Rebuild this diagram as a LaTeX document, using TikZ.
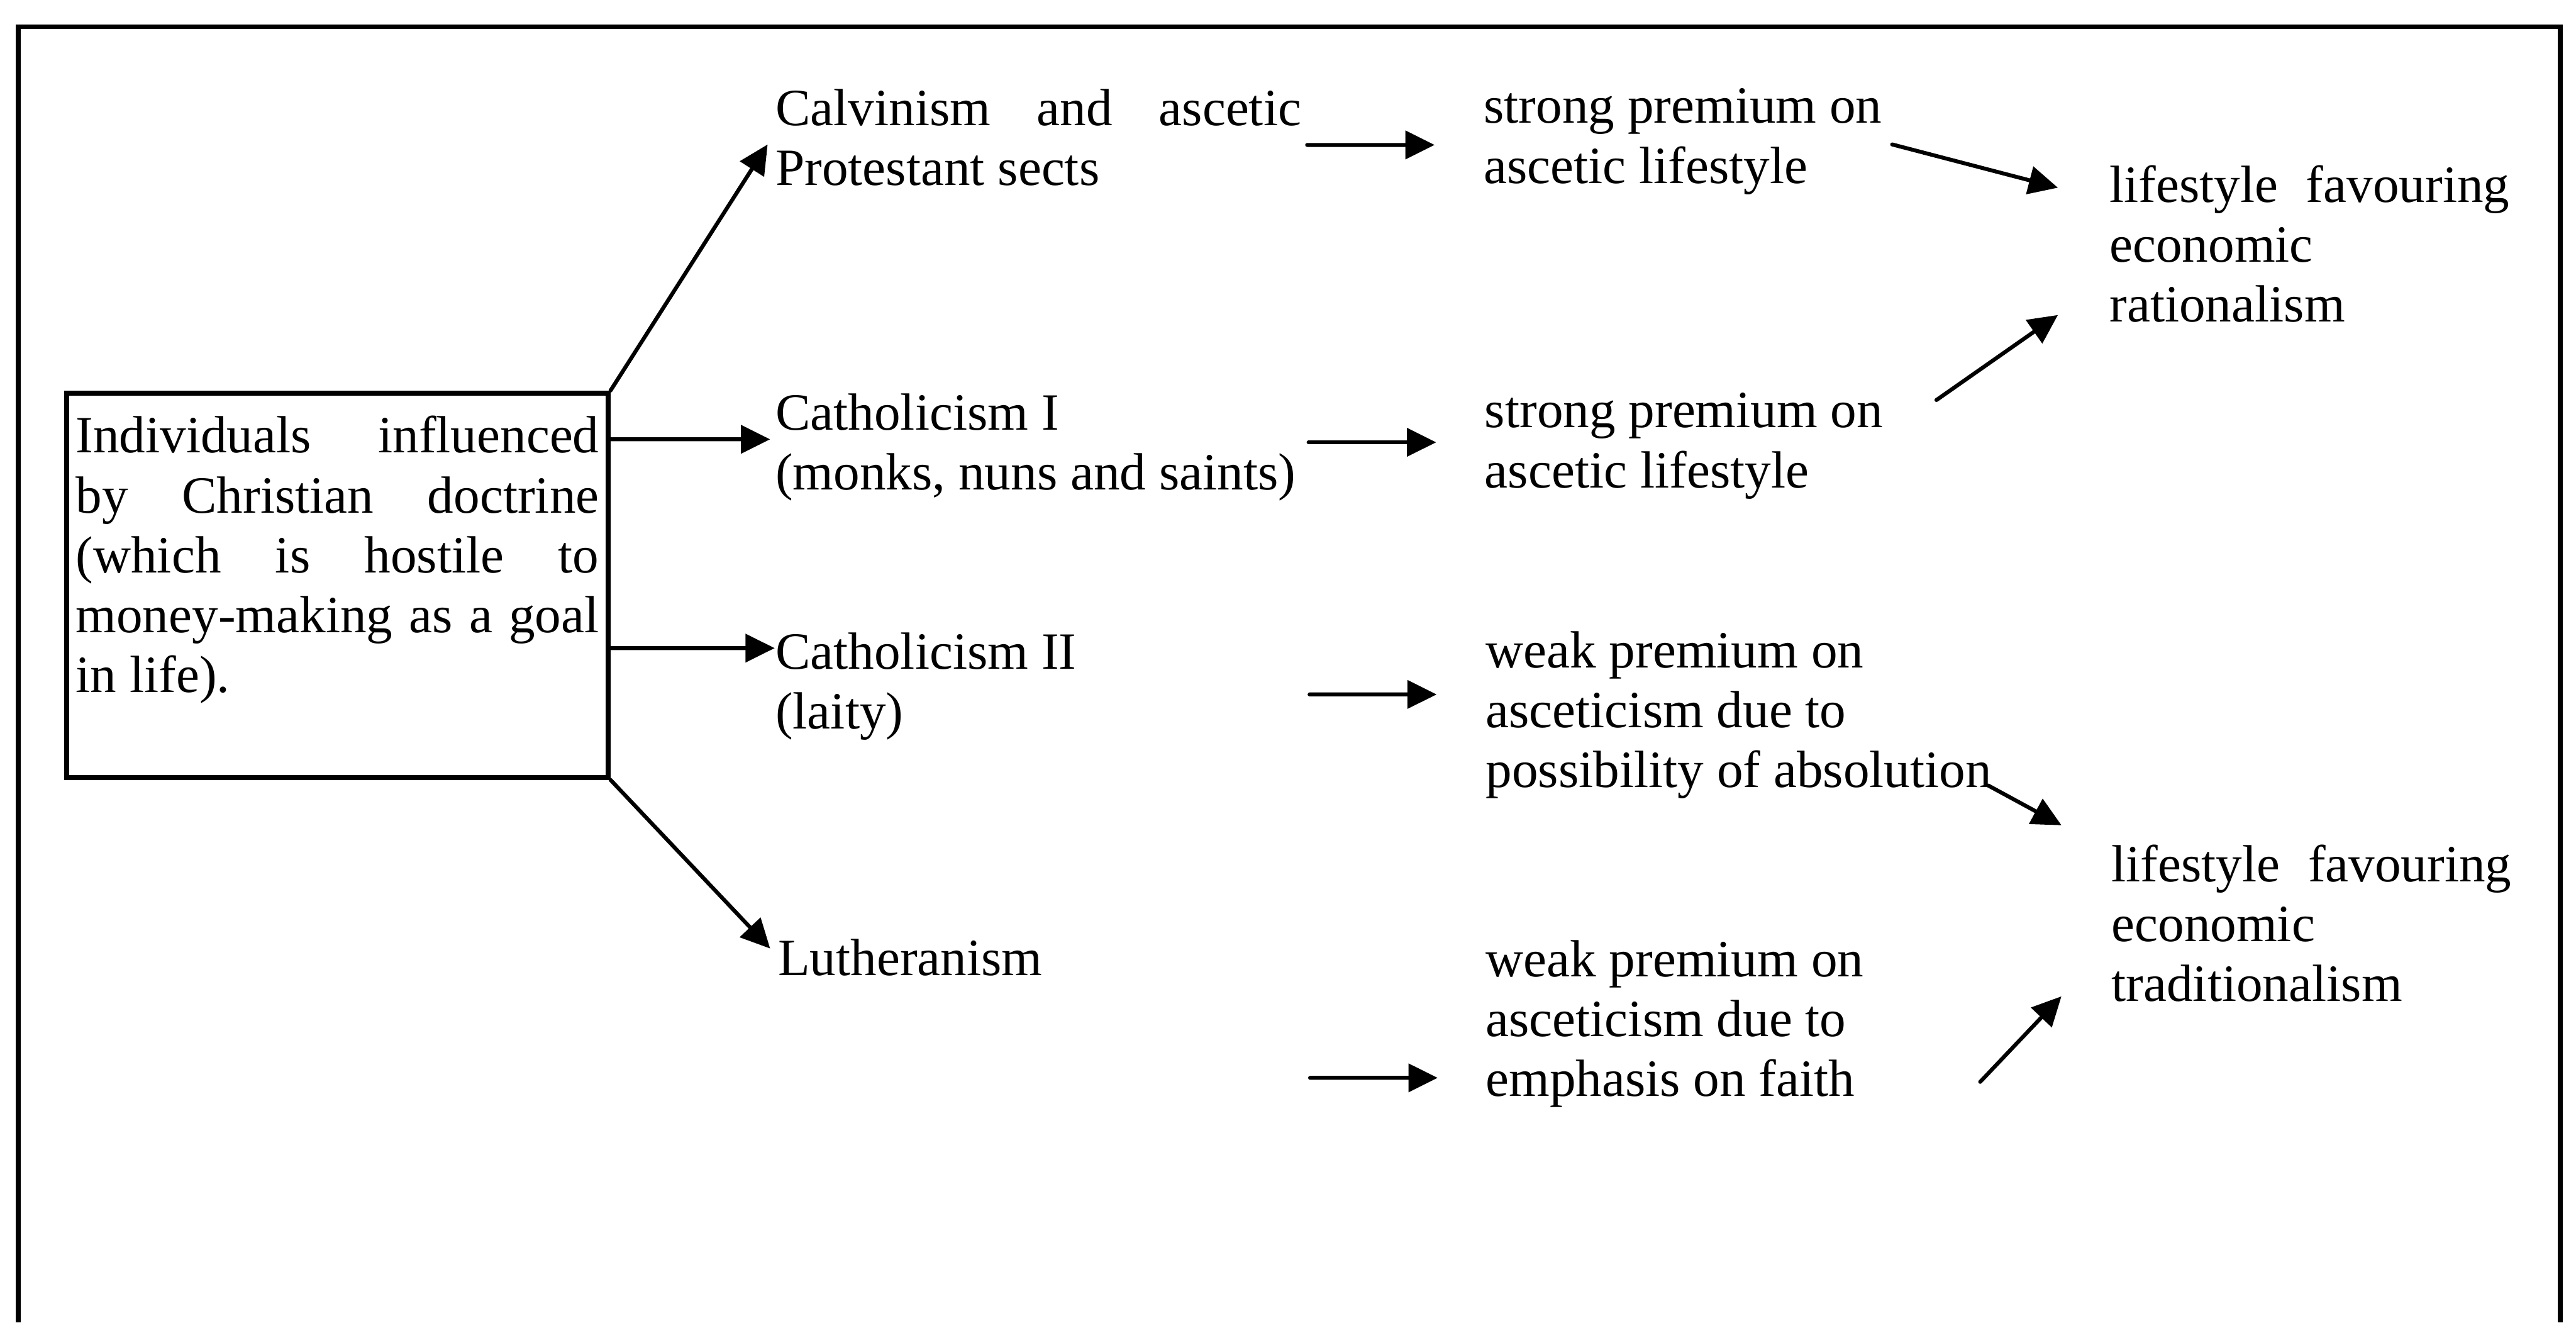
\documentclass[tikz,border=0pt]{standalone}
\usepackage{fontspec}
\setmainfont{Liberation Serif}
\usetikzlibrary{arrows.meta}

\tikzset{
	txt/.style = {anchor=base west, inner sep=0pt, align=justify,
		font=\fontsize{12pt}{13.73pt}\selectfont},
	arr/.style = {-{Triangle[length=6.7pt,width=6.4pt]}, line width=0.9pt, line cap=round},
}

\begin{document}
\begin{tikzpicture}[x=11.538pt, y=-11.538pt]
	\useasboundingbox (0,0) rectangle (51.21,26.28);
	\draw [line width=1.1pt] (0.36,26.28) |- (50.90,0.53) -- (50.90,26.28);
	\node[txt, draw, line width=1.1pt, text width=120pt, inner xsep=2.08pt,
		text height=13.73pt, text depth=74.42pt] (box) at (1.28,9.00)
		{Individuals influenced\linebreak by Christian doctrine\linebreak (which is hostile to\linebreak money-making as a goal\linebreak in life).};
	\node[txt, text width=120.57pt] (calv)    at (15.40,2.49)  {Calvinism and ascetic\linebreak Protestant sects};
	\node[txt, text width=126.9pt]  (cath1)   at (15.40,8.54)  {Catholicism I\\(monks, nuns and saints)};
	\node[txt, text width=126.9pt]  (cath2)   at (15.40,13.29) {Catholicism II\\(laity)};
	\node[txt, text width=126.9pt]  (luth)    at (15.45,19.38) {Lutheranism};
	\node[txt, text width=121.15pt] (strong1) at (29.48,2.45)  {strong premium on\\ascetic lifestyle};
	\node[txt, text width=121.15pt] (strong2) at (29.50,8.50)  {strong premium on\\ascetic lifestyle};
	\node[txt, text width=121.15pt] (weak1)   at (29.52,13.27) {weak premium on\\asceticism due to\\possibility of absolution};
	\node[txt, text width=121.15pt] (weak2)   at (29.52,19.41) {weak premium on\\asceticism due to\\emphasis on faith};
	\node[txt, text width=91.73pt]  (rat)     at (41.92,4.02)  {lifestyle favouring\linebreak economic\\rationalism};
	\node[txt, text width=91.73pt]  (trad)    at (41.96,17.52) {lifestyle favouring\linebreak economic\\traditionalism};
	\draw [arr] (box.north east) -- ([shift={(-0.14,0.38)}]calv.base west);
	\draw [arr] ([shift={(0,-0.27)}]box.base east) -- ([shift={(-0.09,0.19)}]cath1.base west);
	\draw [arr] ([shift={(0,3.88)}]box.base east) -- ([shift={(0,-0.41)}]cath2.base west);
	\draw [arr] (box.south east) -- ([shift={(-0.14,-0.53)}]luth.base west);
	\draw [arr] ([shift={(0.10,0.39)}]calv.base east) -- ([shift={(-0.96,0.43)}]strong1.base west);
	\draw [arr] ([shift={(-0.42,0.25)}]cath1.base east) -- ([shift={(-0.95,0.29)}]strong2.base west);
	\draw [arr] ([shift={(-0.40,0.51)}]cath2.base east) -- ([shift={(-0.96,0.53)}]weak1.base west);
	\draw [arr] ([shift={(-0.44,2.04)}]luth.base east) -- ([shift={(-0.94,2.01)}]weak2.base west);
	\draw [arr] ([shift={(-2.40,0.42)}]strong1.base east) -- ([shift={(-1.01,-0.29)}]rat.base west);
	\draw [arr] ([shift={(-1.54,-0.55)}]strong2.base east) -- ([shift={(-1.01,2.24)}]rat.base west);
	\draw [arr] ([shift={(-0.53,2.34)}]weak1.base east) -- ([shift={(-0.98,-1.12)}]trad.base west);
	\draw [arr] ([shift={(-0.69,2.09)}]weak2.base east) -- ([shift={(-0.98,2.28)}]trad.base west);
\end{tikzpicture}
\end{document}
